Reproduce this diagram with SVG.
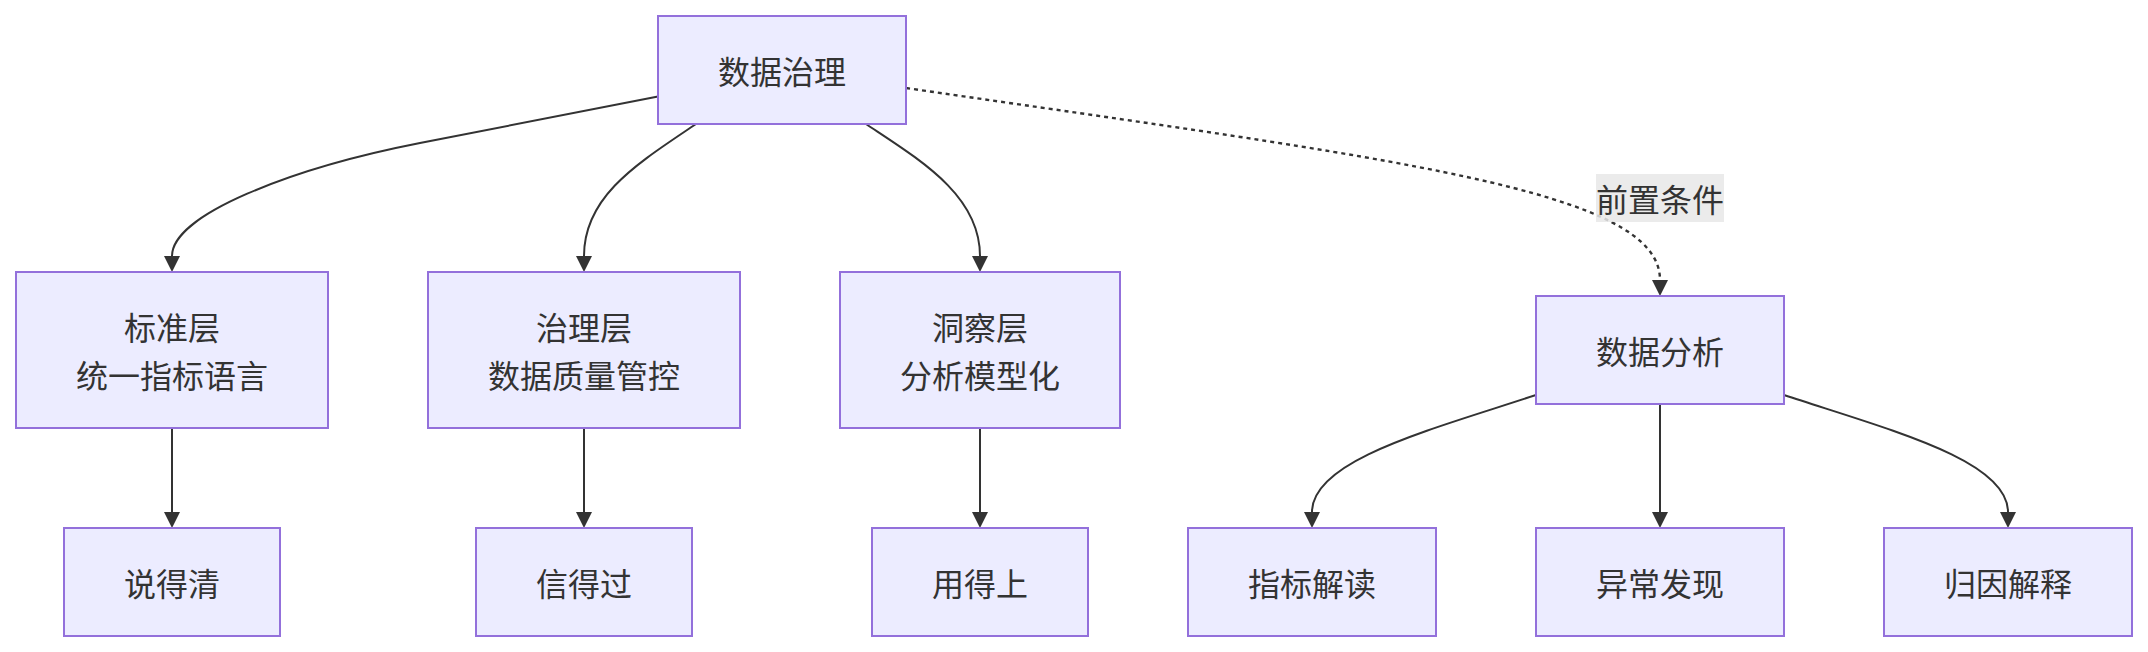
<svg xmlns="http://www.w3.org/2000/svg" width="2148" height="652" viewBox="0 0 2148 652">
<style>
.node rect{fill:#ECECFF;stroke:#9370DB;stroke-width:2}
.node text,.lbl text{font-family:"Noto Sans CJK SC","Noto Sans",sans-serif;font-size:32px;fill:#333333;text-anchor:middle;dominant-baseline:central}
.edge{fill:none;stroke:#333333;stroke-width:2}
.dotted{stroke-dasharray:4 4;stroke-width:2.4}
</style>
<defs>
<marker id="arr" viewBox="0 0 16 16" refX="0" refY="8" markerWidth="16" markerHeight="16" markerUnits="userSpaceOnUse" orient="auto">
<path d="M0,0 L16,8 L0,16 z" fill="#333333"/>
</marker>
</defs>
<rect width="2148" height="652" fill="#ffffff"/>
<g id="connectors">
<path class="edge" d="M658,96.5 L420,143 C290,168.5 172,215 172,256" marker-end="url(#arr)"/>
<path class="edge" d="M696,124 C640,162 584,195 584,256" marker-end="url(#arr)"/>
<path class="edge" d="M866,124 C920,160 980,195 980,256" marker-end="url(#arr)"/>
<path class="edge dotted" d="M906,88 C1400,160 1660,190 1660,280" marker-end="url(#arr)"/>
<path class="edge" d="M172,428 L172,512" marker-end="url(#arr)"/>
<path class="edge" d="M584,428 L584,512" marker-end="url(#arr)"/>
<path class="edge" d="M980,428 L980,512" marker-end="url(#arr)"/>
<path class="edge" d="M1536,395 C1430,430 1312,460 1312,512" marker-end="url(#arr)"/>
<path class="edge" d="M1660,404 L1660,512" marker-end="url(#arr)"/>
<path class="edge" d="M1784,395 C1890,430 2008,460 2008,512" marker-end="url(#arr)"/>
<g class="lbl" id="label-prereq">
<rect x="1596" y="174" width="128" height="48" fill="#e8e8e8" fill-opacity="0.85"/>
<text x="1660" y="198">前置条件</text>
</g>
</g>
<g id="n-governance" class="node"><rect x="658" y="16" width="248" height="108"/><text x="782" y="70">数据治理</text></g>
<g id="n-standard" class="node"><rect x="16" y="272" width="312" height="156"/><text x="172" y="326">标准层</text><text x="172" y="374">统一指标语言</text></g>
<g id="n-govlayer" class="node"><rect x="428" y="272" width="312" height="156"/><text x="584" y="326">治理层</text><text x="584" y="374">数据质量管控</text></g>
<g id="n-insight" class="node"><rect x="840" y="272" width="280" height="156"/><text x="980" y="326">洞察层</text><text x="980" y="374">分析模型化</text></g>
<g id="n-analysis" class="node"><rect x="1536" y="296" width="248" height="108"/><text x="1660" y="350">数据分析</text></g>
<g id="n-clear" class="node"><rect x="64" y="528" width="216" height="108"/><text x="172" y="582">说得清</text></g>
<g id="n-trust" class="node"><rect x="476" y="528" width="216" height="108"/><text x="584" y="582">信得过</text></g>
<g id="n-use" class="node"><rect x="872" y="528" width="216" height="108"/><text x="980" y="582">用得上</text></g>
<g id="n-metric" class="node"><rect x="1188" y="528" width="248" height="108"/><text x="1312" y="582">指标解读</text></g>
<g id="n-anomaly" class="node"><rect x="1536" y="528" width="248" height="108"/><text x="1660" y="582">异常发现</text></g>
<g id="n-attrib" class="node"><rect x="1884" y="528" width="248" height="108"/><text x="2008" y="582">归因解释</text></g>
</svg>
